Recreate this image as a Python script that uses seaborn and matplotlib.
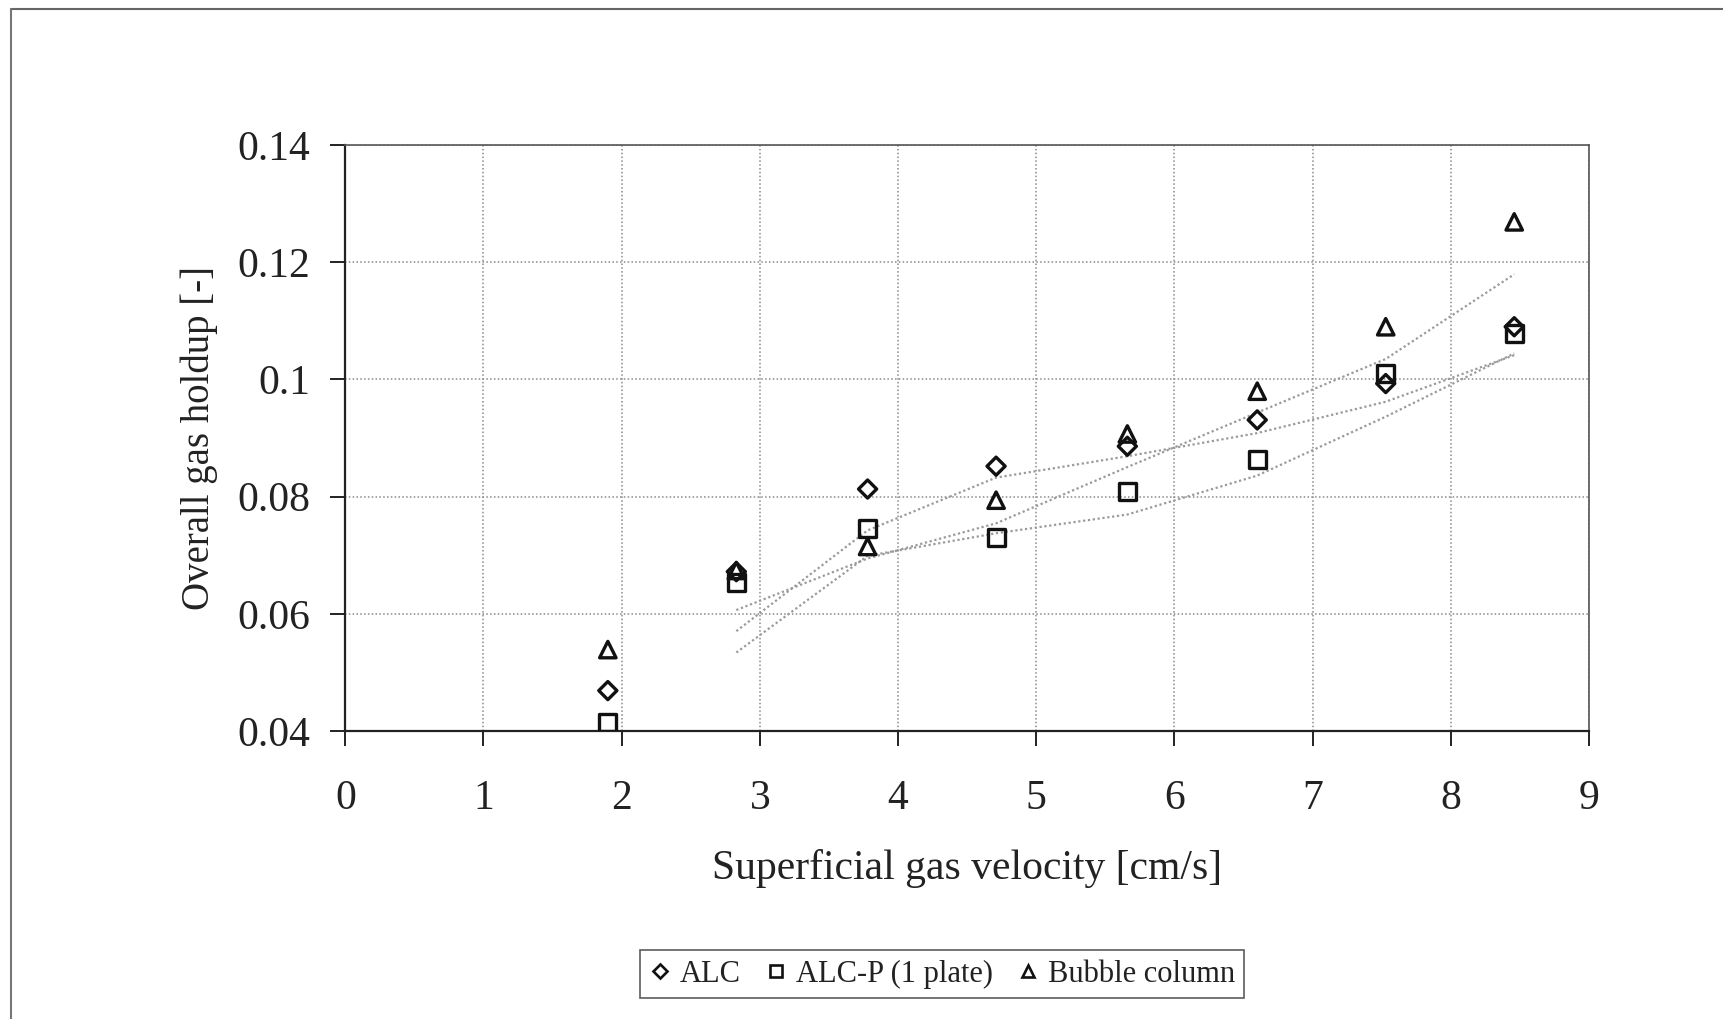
import numpy as np
import pandas as pd
import matplotlib
matplotlib.use("Agg")
import matplotlib.pyplot as plt
from matplotlib.lines import Line2D
import seaborn as sns

# ---- data ----
velocity = [1.90, 2.83, 3.78, 4.71, 5.66, 6.60, 7.53, 8.46]
alc = [0.0469, 0.0672, 0.0813, 0.0852, 0.0886, 0.0931, 0.0993, 0.1090]
alc_p = [0.0415, 0.0653, 0.0745, 0.0730, 0.0809, 0.0863, 0.1010, 0.1079]
bubble = [0.0539, 0.0674, 0.0715, 0.0794, 0.0907, 0.0980, 0.1090, 0.1269]
series_names = ["ALC", "ALC-P (1 plate)", "Bubble column"]
x_ticks = [0, 1, 2, 3, 4, 5, 6, 7, 8, 9]
y_ticks = [0.04, 0.06, 0.08, 0.1, 0.12, 0.14]
y_tick_labels = ["0.04", "0.06", "0.08", "0.1", "0.12", "0.14"]

sns.set_theme(style="white")
plt.rcParams["font.family"] = ["Liberation Serif", "DejaVu Serif"]

fig = plt.figure(figsize=(17.24, 10.19), dpi=100)
ax = fig.add_axes([0.2003, 0.2826, 0.7213, 0.575])

frames = []
for name, vals in zip(series_names, [alc, alc_p, bubble]):
    frames.append(pd.DataFrame({"v": velocity, "h": vals, "s": name}))
df = pd.concat(frames, ignore_index=True)

markers = {"ALC": "D", "ALC-P (1 plate)": "s", "Bubble column": "^"}
sizes = {"ALC": 85, "ALC-P (1 plate)": 150, "Bubble column": 140}

# moving-average (period 2) trendlines
for name in series_names:
    sub = df[df.s == name].copy()
    sub["ma"] = sub["h"].rolling(2).mean()
    sub = sub.dropna()
    sns.lineplot(data=sub, x="v", y="ma", ax=ax, color="#9a9a9a",
                 linestyle=(0, (1, 1.2)), linewidth=1.6, legend=False, zorder=2)

for name in series_names:
    sub = df[df.s == name]
    sns.scatterplot(data=sub, x="v", y="h", ax=ax, marker=markers[name],
                    s=sizes[name], facecolor="none", edgecolor="#111111",
                    linewidth=2.4, legend=False, zorder=3)

ax.set_xlim(0, 9)
ax.set_ylim(0.04, 0.14)
ax.set_xticks(x_ticks)
ax.set_xticklabels([str(t) for t in x_ticks])
ax.set_yticks(y_ticks)
ax.set_yticklabels(y_tick_labels)
ax.grid(True, color="#8a8a8a", linestyle=(0, (1, 1.5)), linewidth=1.1)
ax.set_axisbelow(True)

for side in ["top", "right"]:
    ax.spines[side].set_color("#555555")
    ax.spines[side].set_linewidth(1.2)
for side in ["left", "bottom"]:
    ax.spines[side].set_color("#222222")
    ax.spines[side].set_linewidth(1.6)

ax.tick_params(axis="both", direction="out", length=11, width=1.4,
               color="#222222", labelsize=30, labelcolor="#222222",
               left=True, bottom=True)
ax.tick_params(axis="x", pad=24)
ax.tick_params(axis="y", pad=14)
ax.set_xlabel("Superficial gas velocity [cm/s]", fontsize=30, color="#222222", labelpad=22)
ax.set_ylabel("Overall gas holdup [-]", fontsize=28, color="#222222", labelpad=14)

handles = [Line2D([], [], linestyle="none", marker=markers[n], markersize={"ALC": 7, "ALC-P (1 plate)": 8.5, "Bubble column": 8.5}[n],
                  markerfacecolor="none", markeredgecolor="#111111", markeredgewidth=1.9)
           for n in series_names]
leg = fig.legend(handles, series_names, loc="center", bbox_to_anchor=(0.5465, 0.044),
                 ncol=3, frameon=True, fontsize=22, handlelength=0.7, handletextpad=0.3,
                 columnspacing=0.8, borderpad=0.3, fancybox=False)
leg.get_frame().set_edgecolor("#333333")
leg.get_frame().set_linewidth(1.2)
for t in leg.get_texts():
    t.set_color("#222222")

# outer chart-area border (top and left visible)
fig.add_artist(Line2D([0.0064, 1.0], [0.9914, 0.9914], transform=fig.transFigure, color="#666666", linewidth=1.5))
fig.add_artist(Line2D([0.0064, 0.0064], [0.0, 0.9914], transform=fig.transFigure, color="#777777", linewidth=1.5))

fig.savefig("out.png", dpi=100, facecolor="white")
